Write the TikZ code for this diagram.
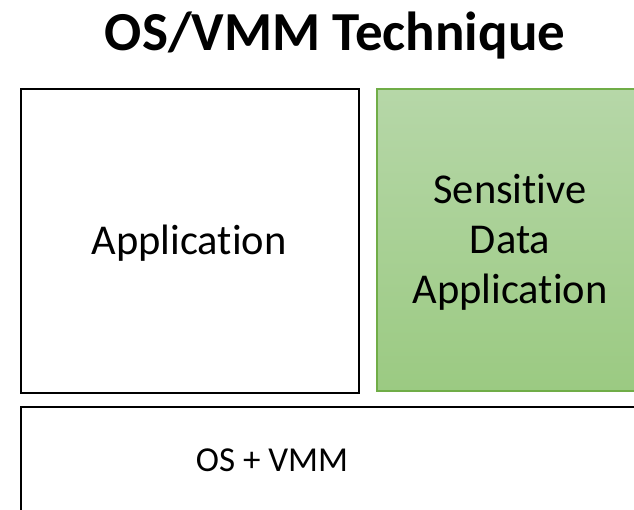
\documentclass[tikz,border=0pt]{standalone}
\usepackage{fontspec}
\setmainfont{Carlito}[Ligatures=NoCommon]
\begin{document}
\begin{tikzpicture}[x=1pt,y=-1pt,
  blk/.style={draw=black,line width=1.6pt,fill=white},
  lbl/.style={font=\fontsize{42.5}{50}\selectfont,align=center,inner sep=0pt}]
\definecolor{gborder}{HTML}{70AD47}
\definecolor{gtop}{HTML}{B6D7A8}
\definecolor{gbot}{HTML}{9BCA82}
\useasboundingbox (0,0) rectangle (634,510);
\clip (0,0) rectangle (634,510);
\node[font=\bfseries\fontsize{55}{60}\selectfont,inner sep=0pt] (title) at (335,36) {OS/VMM Technique};
\node[blk,minimum width=338pt,minimum height=304pt,anchor=north west] (app) at (20,88) {};
\node[lbl] (apptxt) at (189,243) {Application};
\node[draw=gborder,line width=1.6pt,top color=gtop,bottom color=gbot,minimum width=268pt,minimum height=302pt,anchor=north west] (sens) at (376,88) {};
\node[lbl] (senstxt) at (510,242) {Sensitive\\Data\\Application};
\node[blk,minimum width=700pt,minimum height=160pt,anchor=north west] (os) at (20,406) {};
\node[lbl,font=\fontsize{35}{42}\selectfont] (ostxt) at (272,460) {OS + VMM};
\end{tikzpicture}
\end{document}
